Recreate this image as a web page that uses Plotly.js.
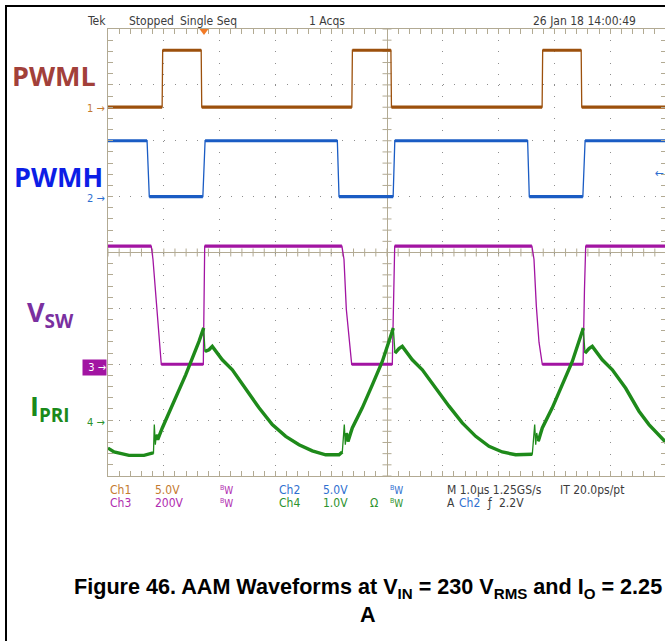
<!DOCTYPE html>
<html>
<head>
<meta charset="utf-8">
<script src="https://cdn.plot.ly/plotly-3.0.1.min.js"></script>
<style>
  html, body { margin:0; padding:0; background:#fff; overflow:hidden; width:665px; height:641px; }
  #chart { position:absolute; left:0; top:0; width:667px; height:641px; }
  #frame { position:absolute; left:5px; top:5px; width:700px; height:700px;
           border-left:2px solid #000; border-top:2px solid #000; pointer-events:none; }
</style>
</head>
<body>
<div id="chart"></div>
<div id="frame"></div>
<script>
// ---------------- data (time in µs, values in channel units) ----------------
// Ch1 – PWML (V)
const t1 = [-5, -4.03, -4.02, -3.33, -3.32, -0.63, -0.62, 0.07, 0.08, 2.78, 2.79, 3.48, 3.49, 5];
const v1 = [0, 0, 5.1, 5.1, 0, 0, 5.1, 5.1, 0, 0, 5.1, 5.1, 0, 0];
// Ch2 – PWMH (V)
const t2 = [-5, -4.30, -4.26, -3.30, -3.26, -0.89, -0.86, 0.11, 0.14, 2.52, 2.55, 3.51, 3.55, 5];
const v2 = [5.0, 5.0, 0, 0, 5.0, 5.0, 0, 0, 5.0, 5.0, 0, 0, 5.0, 5.0];
// Ch3 – VSW (V)
const t3 = [-5, -4.225, -4.194, -4.145, -4.086, -4.045, -3.292, -3.267, -0.808, -0.771, -0.729, -0.681, -0.633,
            0.095, 0.125, 0.138, 2.597, 2.634, 2.676, 2.724, 2.783, 3.513, 3.539, 3.561, 5];
const v3 = [423, 423, 376, 245, 90, 0, 0, 423, 423, 376, 197, 90, 0,
            0, 233, 423, 423, 376, 209, 79, 0, 0, 269, 423, 423];
// Ch4 – IPRI (A)
const t4 = [-5.0, -4.892, -4.624, -4.355, -4.211, -4.185, -4.170, -4.152, -4.134, -4.109,
            -4.027, -3.848, -3.608, -3.369, -3.285, -3.262, -3.190, -3.131, -3.065, -2.952,
            -2.772, -2.532, -2.294, -2.056, -1.815, -1.577, -1.339, -1.099, -0.860, -0.801,
            -0.765, -0.747, -0.729, -0.699, -0.622, -0.443, -0.263, -0.084, 0.095, 0.113,
            0.143, 0.215, 0.274, 0.341, 0.453, 0.633, 0.873, 1.111, 1.349, 1.590,
            1.828, 2.066, 2.306, 2.604, 2.647, 2.665, 2.683, 2.711, 2.783, 2.962,
            3.142, 3.321, 3.500, 3.518, 3.548, 3.620, 3.679, 3.746, 3.858, 4.038,
            4.278, 4.516, 4.695, 5.0];
const i4 = [-0.50, -0.57, -0.63, -0.63, -0.59, -0.59, -0.08, -0.44, -0.26, -0.35,
            -0.14, 0.27, 0.81, 1.41, 1.65, 1.23, 1.26, 1.32, 1.23, 1.08,
            0.90, 0.57, 0.22, -0.08, -0.29, -0.44, -0.55, -0.62, -0.62, -0.57,
            -0.08, -0.44, -0.23, -0.38, -0.14, 0.22, 0.63, 1.05, 1.59, 1.65,
            1.20, 1.28, 1.32, 1.23, 1.08, 0.90, 0.57, 0.25, -0.05, -0.29,
            -0.47, -0.57, -0.62, -0.61, -0.08, -0.44, -0.23, -0.38, -0.14, 0.22,
            0.63, 1.05, 1.59, 1.65, 1.20, 1.28, 1.32, 1.23, 1.08, 0.90,
            0.57, 0.16, -0.08, -0.40];

// channel settings: scale per division and ground-marker position (divisions)
const chScale = [5, 5, 200, 1];
const chPos = [2.6, 1.0, -2.0, -3.0];
const chColor = ['#9c500c', '#1a5cc4', '#a214a2', '#1e8a1a'];

// ---------------- helpers ----------------
const L = 108, T = 29, PW = 558, PH = 447;
const px = x => (x - L) / PW;
const py = y => (T + PH - y) / PH;
const TAN = '#b2aa93';
const NARROW = "'Liberation Sans Narrow', 'Arial Narrow', 'DejaVu Sans Condensed', sans-serif";

function toDiv(vals, k) { return vals.map(v => chPos[k] + v / chScale[k]); }
function thickParts(t, y) {
  const ot = [], oy = [];
  for (let i = 0; i < t.length; i++) {
    ot.push(t[i]); oy.push(y[i]);
    if (i < t.length - 1) {
      const s = Math.abs((y[i + 1] - y[i]) / (t[i + 1] - t[i]));
      if (s > 5) { ot.push(null); oy.push(null); }
    }
  }
  return [ot, oy];
}

const traces = [];
[[t1, v1], [t2, v2], [t3, v3], [t4, i4]].forEach((d, k) => {
  const yd = toDiv(d[1], k);
  traces.push({x: d[0], y: yd, mode: 'lines', line: {color: chColor[k], width: 1.3}, hoverinfo: 'skip', showlegend: false});
  const p = thickParts(d[0], yd);
  traces.push({x: p[0], y: p[1], mode: 'lines', connectgaps: false,
               line: {color: chColor[k], width: k === 3 ? 3.4 : 3.2}, hoverinfo: 'skip', showlegend: false});
});

// graticule centre-line ticks
const shapes = [];
for (let i = -25; i <= 25; i++) {
  shapes.push({type: 'line', xref: 'x', yref: 'y', x0: i * 0.2, x1: i * 0.2, y0: -4 / 55.9, y1: 4 / 55.9,
               line: {color: TAN, width: 1}, layer: 'below'});
}
for (let j = -20; j <= 20; j++) {
  shapes.push({type: 'line', xref: 'x', yref: 'y', y0: j * 0.2, y1: j * 0.2, x0: -4.5 / 55.8, x1: 4.5 / 55.8,
               line: {color: TAN, width: 1}, layer: 'below'});
}
// trigger position marker
shapes.push({type: 'path', xref: 'paper', yref: 'paper',
             path: `M ${px(199.5)} ${py(29)} L ${px(208.5)} ${py(29)} L ${px(204)} ${py(35)} Z`,
             fillcolor: '#f27a26', line: {width: 0}});

function A(x, y, text, color, size, extra) {
  return Object.assign({xref: 'paper', yref: 'paper', x: px(x), y: py(y), text: text, showarrow: false,
    xanchor: 'left', yanchor: 'middle', font: {family: NARROW, size: size, color: color}}, extra || {});
}
const DK = '#3c3c3c';
const cO = '#c47a30', cB = '#2f6fd0', cM = '#b02cb0', cG = '#2c922c';
const BW = '<sup>B</sup>W';
const LBL = "'Open Sans', 'Noto Sans', sans-serif";
const CAP = "'Liberation Sans', Arial, sans-serif";
const ann = [
  // header
  A(85, 21, 'Tek', DK, 12), A(127, 21, 'Stopped', DK, 12), A(178, 21, 'Single Seq', DK, 12),
  A(307, 21, '1 Acqs', DK, 12), A(531, 21, '26 Jan 18 14:00:49', DK, 12),
  // bottom readouts
  A(108, 490, 'Ch1', cO, 12), A(153, 490, '5.0V', cO, 12), A(218, 490, BW, cM, 10),
  A(277, 490, 'Ch2', cB, 12), A(321, 490, '5.0V', cB, 12), A(388, 490, BW, cB, 10),
  A(445, 490, 'M 1.0µs 1.25GS/s', DK, 12), A(558, 490, 'IT 20.0ps/pt', DK, 12),
  A(108, 503, 'Ch3', cM, 12), A(153, 503, '200V', cM, 12), A(218, 503, BW, cM, 10),
  A(277, 503, 'Ch4', cG, 12), A(321, 503, '1.0V', cG, 12), A(368, 503, 'Ω', cG, 12), A(388, 503, BW, cG, 10),
  A(445, 503, 'A', DK, 12), A(457, 503, 'Ch2', cB, 12), A(485, 503, 'ƒ', DK, 12), A(497, 503, '2.2V', DK, 12),
  // channel ground markers
  A(107, 108, '1 →', cO, 11, {xanchor: 'right'}),
  A(107, 198, '2 →', cB, 11, {xanchor: 'right'}),
  A(107, 367, '3 →', '#ffffff', 11, {xanchor: 'right', bgcolor: '#a214a2', width: 23, height: 15, borderpad: 0, align: 'right'}),
  A(107, 422, '4 →', cG, 11, {xanchor: 'right'}),
  A(666, 173, '←', cB, 12, {xanchor: 'right'}),
  // channel labels
  A(54, 75, '<b>PWML</b>', '#a2403a', 27, {xanchor: 'center', font: {family: LBL, size: 27, color: '#a2403a'}}),
  A(58, 176, '<b>PWMH</b>', '#0c1ee6', 27, {xanchor: 'center', font: {family: LBL, size: 27, color: '#0c1ee6'}}),
  A(50, 313, '<b>V<sub>SW</sub></b>', '#7a30a0', 27, {xanchor: 'center', font: {family: LBL, size: 27, color: '#7a30a0'}}),
  A(50, 407, '<b>I<sub>PRI</sub></b>', '#1a8a1a', 27, {xanchor: 'center', font: {family: LBL, size: 27, color: '#1a8a1a'}}),
  // caption
  A(368, 588, '<b>Figure 46. AAM Waveforms at V<sub>IN</sub> = 230 V<sub>RMS</sub> and I<sub>O</sub> = 2.25</b>', '#000', 21.6,
    {xanchor: 'center', font: {family: CAP, size: 21.6, color: '#000'}}),
  A(368, 614, '<b>A</b>', '#000', 21.6,
    {xanchor: 'center', font: {family: CAP, size: 21.6, color: '#000'}})
];

const axBase = {
  showticklabels: false, showline: true, linecolor: TAN, linewidth: 1, mirror: 'allticks',
  ticks: 'inside', ticklen: 5, tickcolor: TAN, tickwidth: 1,
  zeroline: true, zerolinecolor: TAN, zerolinewidth: 1,
  showgrid: true, gridcolor: '#8e8e8e', gridwidth: 1,
  minor: {ticks: 'inside', ticklen: 5, tickcolor: TAN, tickwidth: 1, showgrid: false},
  fixedrange: true
};
const layout = {
  width: 667, height: 641,
  margin: {l: L, r: 1, t: T, b: 641 - T - PH},
  paper_bgcolor: '#ffffff', plot_bgcolor: '#ffffff',
  showlegend: false,
  xaxis: Object.assign({}, axBase, {range: [-5, 5], dtick: 1, tick0: 0, griddash: '1px,10.175px',
                                     minor: Object.assign({}, axBase.minor, {dtick: 0.2})}),
  yaxis: Object.assign({}, axBase, {range: [-4, 4], dtick: 1, tick0: 0, griddash: '1px,10.16px',
                                     minor: Object.assign({}, axBase.minor, {dtick: 0.2})}),
  shapes: shapes,
  annotations: ann
};
Plotly.newPlot('chart', traces, layout, {staticPlot: true, displayModeBar: false});
</script>
</body>
</html>
